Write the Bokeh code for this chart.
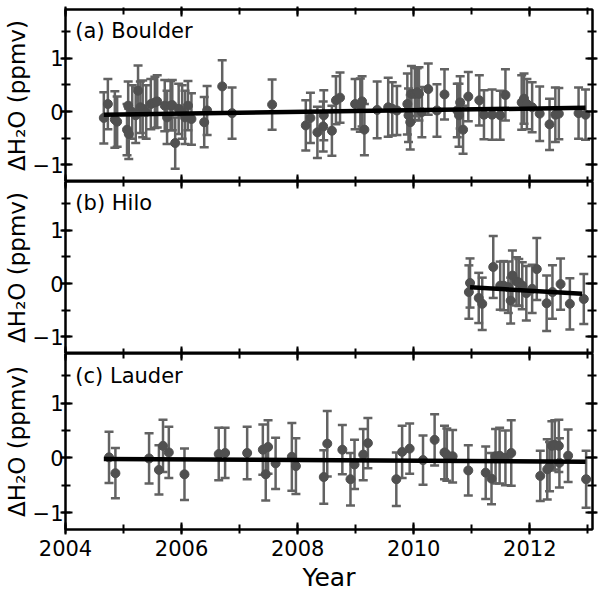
from bokeh.plotting import figure
from bokeh.models import (ColumnDataSource, Whisker, TeeHead, Label, LinearAxis,
                          SingleIntervalTicker, Range1d)
from bokeh.layouts import column
from bokeh.embed import file_html
from bokeh.resources import INLINE

# ---------------- data ----------------
boulder_year = [2004.66, 2004.73, 2004.85, 2004.89, 2005.06, 2005.09, 2005.08, 2005.15, 2005.21,
                2005.25, 2005.29, 2005.33, 2005.39, 2005.47, 2005.54, 2005.58, 2005.71, 2005.75,
                2005.81, 2005.84, 2005.89, 2005.95, 2006.01, 2006.06, 2006.11, 2006.17, 2006.39,
                2006.44, 2006.70, 2006.87, 2007.56, 2008.14, 2008.22, 2008.34, 2008.45, 2008.44,
                2008.59, 2008.66, 2008.73, 2008.99, 2009.08, 2009.11, 2009.15, 2009.37, 2009.56,
                2009.63, 2009.71, 2009.89, 2009.91, 2009.94, 2009.96, 2010.02, 2010.06, 2010.09,
                2010.14, 2010.25, 2010.40, 2010.53, 2010.75, 2010.78, 2010.80, 2010.85, 2010.94,
                2011.13, 2011.21, 2011.35, 2011.49, 2011.58, 2011.86, 2011.90, 2011.95, 2012.04,
                2012.17, 2012.34, 2012.44, 2012.50, 2012.84, 2012.96]
boulder_dh2o = [-0.12, 0.14, -0.15, -0.19, -0.34, -0.42, 0.11, -0.01, -0.07,
                0.39, 0.08, 0.05, -0.01, 0.14, 0.17, 0.19, 0.11, -0.11,
                0.11, 0.12, -0.59, 0.05, -0.01, -0.11, 0.11, -0.14, -0.20,
                0.02, 0.47, -0.03, 0.13, -0.26, -0.12, -0.39, -0.07, -0.28,
                -0.36, 0.21, 0.26, 0.14, 0.12, 0.19, -0.34, 0.03, 0.08,
                0.05, 0.02, 0.14, -0.07, -0.20, 0.33, 0.33, 0.36, 0.33,
                -0.01, 0.42, 0.02, 0.32, 0.02, -0.07, 0.17, -0.34, 0.28,
                0.21, -0.06, -0.06, -0.07, 0.31, 0.17, 0.24, 0.14, 0.08,
                -0.04, -0.24, -0.06, -0.04, -0.03, -0.06]
boulder_err = [0.48, 0.47, 0.53, 0.47, 0.48, 0.47, 0.45, 0.50, 0.52,
               0.47, 0.48, 0.53, 0.50, 0.47, 0.48, 0.49, 0.48, 0.50,
               0.46, 0.47, 0.48, 0.47, 0.50, 0.50, 0.46, 0.48, 0.47,
               0.46, 0.49, 0.48, 0.47, 0.47, 0.47, 0.48, 0.47, 0.47,
               0.47, 0.45, 0.47, 0.47, 0.50, 0.47, 0.48, 0.53, 0.55,
               0.50, 0.46, 0.57, 0.50, 0.51, 0.52, 0.49, 0.45, 0.50,
               0.47, 0.48, 0.49, 0.47, 0.50, 0.59, 0.49, 0.45, 0.46,
               0.47, 0.46, 0.47, 0.46, 0.48, 0.51, 0.47, 0.47, 0.47,
               0.51, 0.48, 0.51, 0.48, 0.48, 0.47]
boulder_trend_year = [2004.66, 2012.96]
boulder_trend_dh2o = [-0.06, 0.07]

hilo_year = [2010.95, 2010.97, 2011.12, 2011.18, 2011.37, 2011.49, 2011.55, 2011.63, 2011.67,
             2011.70, 2011.77, 2011.81, 2011.87, 2011.94, 2012.04, 2012.12, 2012.29, 2012.39,
             2012.53, 2012.69, 2012.93]
hilo_dh2o = [-0.16, 0.01, -0.27, -0.38, 0.31, -0.04, -0.04, -0.07, -0.32,
             0.15, 0.04, 0.02, -0.04, -0.18, -0.10, 0.27, -0.37, -0.16,
             -0.01, -0.38, -0.29]
hilo_err = [0.50, 0.46, 0.47, 0.49, 0.58, 0.45, 0.46, 0.48, 0.43,
            0.47, 0.45, 0.44, 0.44, 0.51, 0.45, 0.58, 0.52, 0.50,
            0.48, 0.48, 0.47]
hilo_trend_year = [2010.97, 2012.90]
hilo_trend_dh2o = [-0.07, -0.19]

lauder_year = [2004.75, 2004.86, 2005.44, 2005.61, 2005.68, 2005.78, 2006.05, 2006.64, 2006.75,
               2007.13, 2007.40, 2007.49, 2007.45, 2007.62, 2007.90, 2007.97, 2008.45, 2008.51,
               2008.77, 2008.91, 2008.98, 2009.13, 2009.21, 2009.70, 2009.80, 2009.93, 2010.16,
               2010.36, 2010.53, 2010.57, 2010.67, 2010.94, 2011.24, 2011.34, 2011.41, 2011.48,
               2011.58, 2011.68, 2012.18, 2012.30, 2012.34, 2012.38, 2012.43, 2012.50, 2012.51,
               2012.66, 2012.97]
lauder_dh2o = [0.01, -0.28, -0.01, -0.22, 0.22, 0.10, -0.30, 0.07, 0.09,
               0.09, 0.15, 0.20, -0.30, -0.10, 0.02, -0.15, -0.35, 0.26,
               0.15, -0.39, -0.12, 0.06, 0.27, -0.39, 0.11, 0.17, -0.04,
               0.33, 0.10, 0.06, 0.03, -0.23, -0.27, -0.38, 0.03, 0.04,
               0.00, 0.09, -0.33, -0.21, -0.16, 0.22, 0.24, 0.22, -0.09,
               0.04, -0.39]
lauder_err = [0.47, 0.46, 0.46, 0.45, 0.48, 0.47, 0.47, 0.48, 0.46,
              0.48, 0.46, 0.49, 0.48, 0.47, 0.62, 0.51, 0.49, 0.60,
              0.45, 0.48, 0.45, 0.47, 0.46, 0.49, 0.48, 0.46, 0.45,
              0.47, 0.49, 0.48, 0.48, 0.46, 0.48, 0.47, 0.50, 0.51,
              0.50, 0.60, 0.46, 0.55, 0.45, 0.45, 0.45, 0.48, 0.45,
              0.48, 0.52]
lauder_trend_year = [2004.66, 2012.96]
lauder_trend_dh2o = [-0.02, -0.07]

panel_labels = ["(a) Boulder", "(b) Hilo", "(c) Lauder"]
x_tick_interval = 2
y_tick_interval = 1

# ---------------- styling ----------------
FONT = "DejaVu Sans"
X_RANGE = (2004.0, 2013.08)
Y_RANGE = (-1.31, 1.91)
DOT = "#505050"
BAR = "#626262"


def style_axis(ax, labels=True, tin=7, tout=5, mtin=5, mtout=4):
    ax.axis_line_color = "black"
    ax.axis_line_width = 2
    ax.major_tick_line_color = "black"
    ax.major_tick_line_width = 2
    ax.minor_tick_line_color = "black"
    ax.minor_tick_line_width = 2
    ax.major_tick_in = tin
    ax.major_tick_out = tout
    ax.minor_tick_in = mtin
    ax.minor_tick_out = mtout
    ax.major_label_text_font = FONT
    if labels:
        ax.major_label_text_color = "black"
        ax.major_label_text_font_size = "21px"
        ax.major_label_standoff = 2
    else:
        ax.major_label_text_color = None
        ax.major_label_text_font_size = "1px"
        ax.major_label_standoff = 0


def make_panel(idx, years, vals, errs, tyears, tvals, frame_h, top_b, bottom_b, last):
    p = figure(frame_width=527, frame_height=frame_h,
               x_range=Range1d(*X_RANGE), y_range=Range1d(*Y_RANGE),
               output_backend="svg", toolbar_location=None,
               min_border_left=50, min_border_right=6,
               min_border_top=top_b, min_border_bottom=bottom_b)
    p.grid.visible = False
    p.outline_line_color = "black"
    p.outline_line_width = 2
    p.background_fill_color = "white"
    p.border_fill_color = "white"

    # bottom x axis
    xa = p.xaxis[0]
    xa.ticker = SingleIntervalTicker(interval=x_tick_interval, num_minor_ticks=2)
    if last:
        style_axis(xa, labels=True)
        xa.major_label_standoff = 5
        xa.axis_label = "Year"
        xa.axis_label_text_font = FONT
        xa.axis_label_text_font_size = "25px"
        xa.axis_label_text_font_style = "normal"
        xa.axis_label_text_color = "black"
        xa.axis_label_standoff = 4
    else:
        style_axis(xa, labels=False, tout=0, mtout=0)

    # left y axis
    ya = p.yaxis[0]
    ya.ticker = SingleIntervalTicker(interval=y_tick_interval, num_minor_ticks=2)
    style_axis(ya, labels=True)
    ya.major_label_standoff = -3
    ya.axis_label = "ΔH₂O (ppmv)"
    ya.axis_label_text_font = FONT
    ya.axis_label_text_font_size = "23px"
    ya.axis_label_text_font_style = "normal"
    ya.axis_label_text_color = "black"
    ya.axis_label_standoff = 0

    # mirrored axes
    top = LinearAxis(ticker=SingleIntervalTicker(interval=x_tick_interval, num_minor_ticks=2))
    if idx == 0:
        style_axis(top, labels=False, tout=3, mtout=2)
    else:
        style_axis(top, labels=False, tout=0, mtout=0)
    p.add_layout(top, "above")
    right = LinearAxis(ticker=SingleIntervalTicker(interval=y_tick_interval, num_minor_ticks=2))
    style_axis(right, labels=False)
    p.add_layout(right, "right")

    src = ColumnDataSource(dict(
        x=years, y=vals,
        upper=[v + e for v, e in zip(vals, errs)],
        lower=[v - e for v, e in zip(vals, errs)]))
    w = Whisker(source=src, base="x", upper="upper", lower="lower", dimension="height",
                line_color=BAR, line_width=2.5,
                upper_head=TeeHead(size=9, line_color=BAR, line_width=2.5),
                lower_head=TeeHead(size=9, line_color=BAR, line_width=2.5))
    p.add_layout(w)
    p.scatter("x", "y", source=src, size=9, fill_color=DOT, line_color=DOT)
    p.line(tyears, tvals, line_color="black", line_width=4.5)

    p.add_layout(Label(x=2004.17, y=1.5, text=panel_labels[idx], text_font=FONT,
                       text_font_size="21px", text_baseline="middle", text_color="black"))
    return p


pa = make_panel(0, boulder_year, boulder_dh2o, boulder_err, boulder_trend_year,
                boulder_trend_dh2o, 172, 9, 0, False)
pb = make_panel(1, hilo_year, hilo_dh2o, hilo_err, hilo_trend_year,
                hilo_trend_dh2o, 172, 0, 0, False)
pc = make_panel(2, lauder_year, lauder_dh2o, lauder_err, lauder_trend_year,
                lauder_trend_dh2o, 176, 0, 40, True)

layout = column(pa, pb, pc, spacing=0)

html = file_html(layout, INLINE)
open("out.html", "w").write(html)
